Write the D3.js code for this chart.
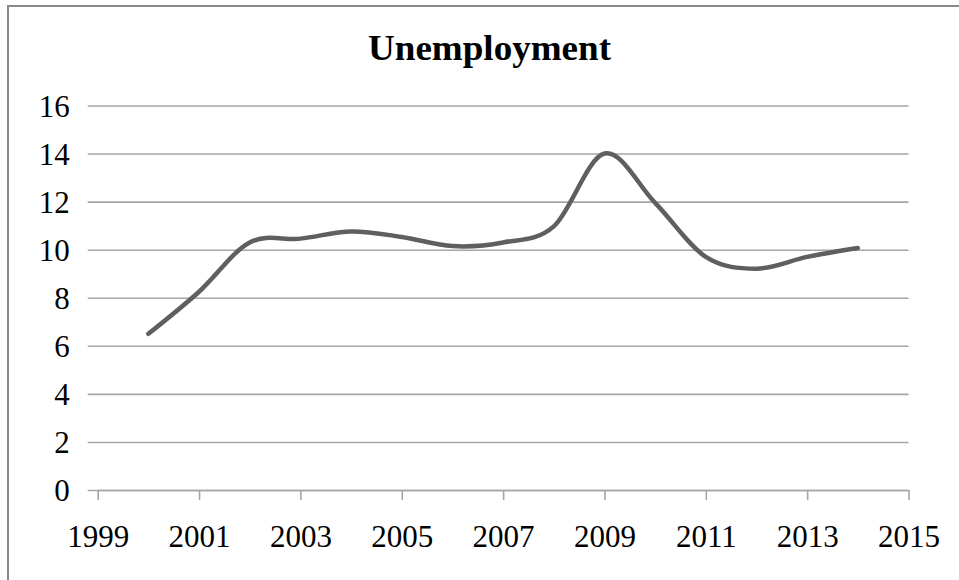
<!DOCTYPE html>
<html><head><meta charset="utf-8">
<script src="https://cdn.jsdelivr.net/npm/d3@7"></script>
<style>html,body{margin:0;padding:0;background:#fff;overflow:hidden}</style>
</head><body>
<svg id="c" width="959" height="580"></svg>
<script>
const years = [2000,2001,2002,2003,2004,2005,2006,2007,2008,2009,2010,2011,2012,2013,2014];
const unemployment = [6.5,8.25,10.3,10.46,10.76,10.53,10.15,10.3,10.97,14.0,11.95,9.7,9.21,9.7,10.07];
const xTicks = [1999,2001,2003,2005,2007,2009,2011,2013,2015];
const yTicks = [0,2,4,6,8,10,12,14,16];
const title = "Unemployment";

const svg = d3.select("#c");
const font = "'Liberation Serif','Times New Roman',serif";
svg.append("rect").attr("x",8).attr("y",6).attr("width",1000).attr("height",1000)
  .attr("fill","#fff").attr("stroke","#888").attr("stroke-width",2);

const x = d3.scaleLinear().domain([1999,2015]).range([97.7,908.5]);
const y = d3.scaleLinear().domain([0,16]).range([490,105.5]);
const grid = "#a6a6a6";

const yAxis = svg.append("g").attr("transform","translate(97.7,0)")
  .call(d3.axisLeft(y).tickValues(yTicks).tickSize(-(908.5-97.7)).tickSizeOuter(0).tickPadding(0));
yAxis.select(".domain").remove();
yAxis.selectAll(".tick line").attr("x1",-10).attr("stroke",grid).attr("stroke-width",1.6);
yAxis.selectAll(".tick text").attr("x",-28).attr("dy","0.34em")
  .style("font-family",font).style("font-size","31px").attr("fill","#000");

const xAxis = svg.append("g").attr("transform","translate(0,490)")
  .call(d3.axisBottom(x).tickValues(xTicks).tickFormat(d3.format("d")).tickSize(10).tickSizeOuter(0).tickPadding(0));
xAxis.select(".domain").attr("stroke",grid).attr("stroke-width",1.6);
xAxis.selectAll(".tick line").attr("stroke",grid).attr("stroke-width",1.6);
xAxis.selectAll(".tick text").attr("y",57).attr("dy",0)
  .style("font-family",font).style("font-size","31px").attr("fill","#000");

const line = d3.line().x((d,i)=>x(years[i])).y(d=>y(d)).curve(d3.curveCatmullRom.alpha(0));
svg.append("path").datum(unemployment).attr("d",line).attr("fill","none")
  .attr("stroke","#5f5f5f").attr("stroke-width",4.5).attr("stroke-linecap","round").attr("stroke-linejoin","round");

svg.append("text").attr("x",489.5).attr("y",60).attr("text-anchor","middle")
  .attr("textLength",243).attr("lengthAdjust","spacingAndGlyphs")
  .style("font-family",font).style("font-size","35px").style("font-weight","bold").text(title);
</script>
</body></html>
